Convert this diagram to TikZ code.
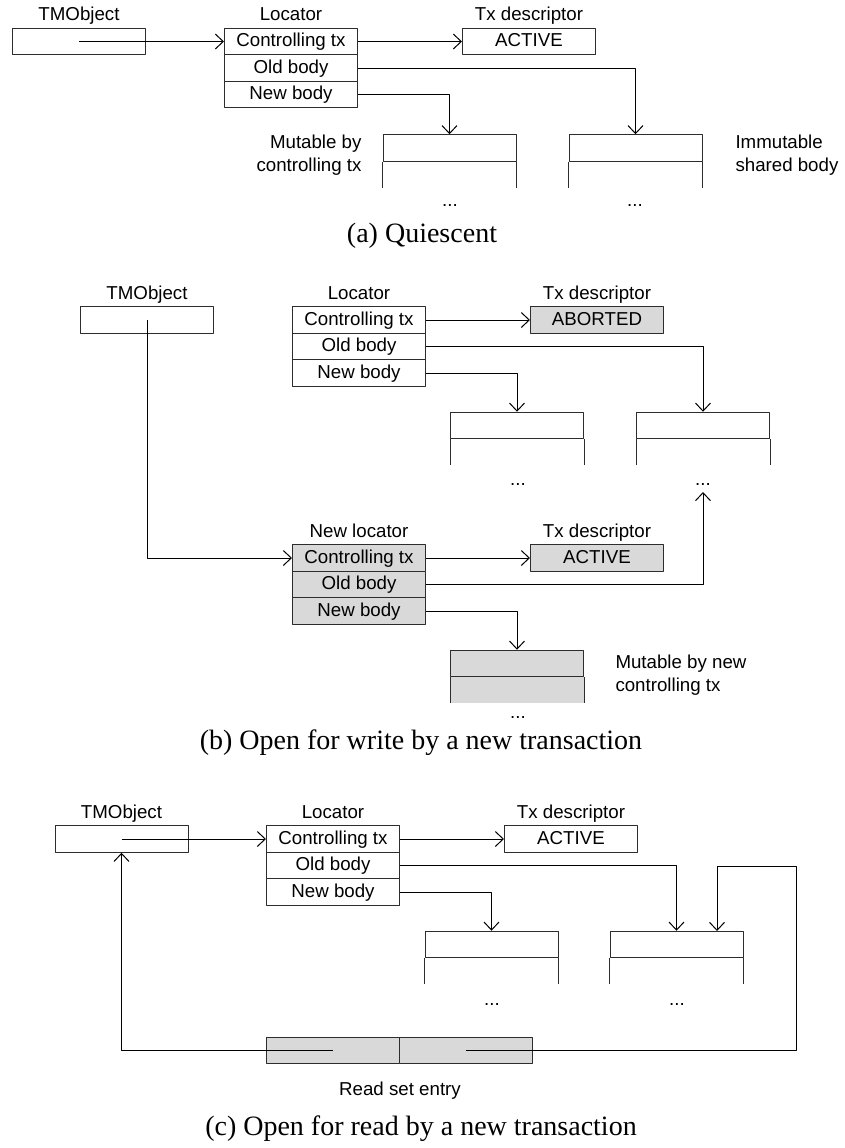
\documentclass[tikz,border=0pt]{standalone}
\usepackage{fontspec}
\setmainfont{Liberation Sans}
\newfontfamily\capfont{Liberation Serif}
\usetikzlibrary{arrows.meta}
\definecolor{cellgray}{RGB}{217,217,217}
\definecolor{linegray}{RGB}{45,45,45}
\tikzset{
  cell/.style={draw=linegray, minimum width=66.5pt, minimum height=13.25pt, inner sep=0pt, text height=7.2pt, text depth=2pt},
  shaded/.style={cell, fill=cellgray},
  title/.style={inner sep=0pt, text height=7.2pt, text depth=2pt},
  note/.style={inner sep=0pt},
  caption/.style={inner sep=0pt, font=\capfont\fontsize{14pt}{16pt}\selectfont},
  ptr/.style={-{Straight Barb[length=4pt,width=7.5pt]}},
}
\begin{document}
\begin{tikzpicture}[x=0.5pt,y=-0.5pt,line width=0.5pt,line join=round,font=\fontsize{9.35pt}{11.5pt}\selectfont]
	\useasboundingbox (0,0) rectangle (845,1148);
	% (a) quiescent
	\node[title] (a-tmo-t) at (79,15.5) {TMObject};
	\node[cell] (a-tmo) at (79,41.5) {};
	\node[title] (a-loc-t) at (291,15.5) {Locator};
	\node[cell] (a-ctl) at (291,41.5) {Controlling tx};
	\node[cell] (a-old) at (291,68) {Old body};
	\node[cell] (a-new) at (291,94.5) {New body};
	\node[title] (a-txd-t) at (529,15.5) {Tx descriptor};
	\node[cell] (a-txd) at (529,41.5) {ACTIVE};
	\node[cell] (a-mut) at (449.5,148) {};
	\node[cell] (a-imm) at (635.5,148) {};
	\draw[linegray] (a-mut.south west) -- ++(0,26) (a-mut.south east) -- ++(0,26);
	\draw[linegray] (a-imm.south west) -- ++(0,26) (a-imm.south east) -- ++(0,26);
	\node[title] (a-mdots) at (450,201) {...};
	\node[title] (a-idots) at (635,201) {...};
	\node[note,align=right,anchor=east] (a-mut-n) at (362,155) {Mutable by\\controlling tx};
	\node[note,align=left,anchor=west] (a-imm-n) at (735,155) {Immutable\\shared body};
	\draw[ptr] (a-tmo.center) -- (a-ctl.west);
	\draw[ptr] (a-ctl.east) -- (a-txd.west);
	\draw[ptr] (a-old.east) -| (a-imm.north);
	\draw[ptr] (a-new.east) -| (a-mut.north);
	\node[caption] (a-cap) at (422,236) {(a) Quiescent};

	% (b) open for write
	\node[title] (b-tmo-t) at (147,294) {TMObject};
	\node[cell] (b-tmo) at (147,320) {};
	\node[title] (b-loc-t) at (359,294) {Locator};
	\node[cell] (b-ctl) at (359,320) {Controlling tx};
	\node[cell] (b-old) at (359,346.5) {Old body};
	\node[cell] (b-new) at (359,373) {New body};
	\node[title] (b-txd-t) at (597,294) {Tx descriptor};
	\node[shaded] (b-txd) at (597,320) {ABORTED};
	\node[cell] (b-mut) at (517,425.5) {};
	\node[cell] (b-imm) at (703,425.5) {};
	\draw[linegray] (b-mut.south west) -- ++(0,26) (b-mut.south east) -- ++(0,26);
	\draw[linegray] (b-imm.south west) -- ++(0,26) (b-imm.south east) -- ++(0,26);
	\node[title] (b-mdots) at (518,480) {...};
	\node[title] (b-idots) at (703,480) {...};
	\coordinate (b-up) at (703,492);
	\node[title] (b-nloc-t) at (359,532) {New locator};
	\node[shaded] (b-nctl) at (359,558) {Controlling tx};
	\node[shaded] (b-nold) at (359,584.5) {Old body};
	\node[shaded] (b-nnew) at (359,611) {New body};
	\node[title] (b-ntxd-t) at (597,532) {Tx descriptor};
	\node[shaded] (b-ntxd) at (597,558) {ACTIVE};
	\fill[cellgray] (450.5,677) rectangle (583.5,703);
	\node[shaded] (b-nmut) at (517,663.5) {};
	\draw[linegray] (b-nmut.south west) -- ++(0,26) (b-nmut.south east) -- ++(0,26);
	\node[title] (b-ndots) at (518,713) {...};
	\node[note,align=left,anchor=west] (b-nmut-n) at (615,675) {Mutable by new\\controlling tx};
	\draw[ptr] (b-tmo.center) |- (b-nctl.west);
	\draw[ptr] (b-ctl.east) -- (b-txd.west);
	\draw[ptr] (b-old.east) -| (b-imm.north);
	\draw[ptr] (b-new.east) -| (b-mut.north);
	\draw[ptr] (b-nctl.east) -- (b-ntxd.west);
	\draw[ptr] (b-nold.east) -| (b-up);
	\draw[ptr] (b-nnew.east) -| (b-nmut.north);
	\node[caption] (b-cap) at (421,743) {(b) Open for write by a new transaction};

	% (c) open for read
	\node[title] (c-tmo-t) at (121.5,813) {TMObject};
	\node[cell] (c-tmo) at (121.5,839) {};
	\node[title] (c-loc-t) at (333,813) {Locator};
	\node[cell] (c-ctl) at (333,839) {Controlling tx};
	\node[cell] (c-old) at (333,865.5) {Old body};
	\node[cell] (c-new) at (333,892) {New body};
	\node[title] (c-txd-t) at (571,813) {Tx descriptor};
	\node[cell] (c-txd) at (571,839) {ACTIVE};
	\node[cell] (c-mut) at (491.5,944.5) {};
	\node[cell] (c-imm) at (676.5,944.5) {};
	\draw[linegray] (c-mut.south west) -- ++(0,26) (c-mut.south east) -- ++(0,26);
	\draw[linegray] (c-imm.south west) -- ++(0,26) (c-imm.south east) -- ++(0,26);
	\node[title] (c-mdots) at (492,1000) {...};
	\node[title] (c-idots) at (677,1000) {...};
	\node[shaded] (c-rs1) at (333,1050.5) {};
	\node[shaded] (c-rs2) at (465.5,1050.5) {};
	\node[title] (c-rs-t) at (400,1090) {Read set entry};
	\coordinate (c-turn) at (796,866);
	\coordinate (c-in) at (717,931);
	\draw[ptr] (c-tmo.center) -- (c-ctl.west);
	\draw[ptr] (c-ctl.east) -- (c-txd.west);
	\draw[ptr] (c-old.east) -| (c-imm.north);
	\draw[ptr] (c-new.east) -| (c-mut.north);
	\draw[ptr] (c-rs1.center) -| (c-tmo.south);
	\draw[ptr] (c-rs2.center) -| (c-turn) -| (c-in);
	\node[caption] (c-cap) at (421,1129) {(c) Open for read by a new transaction};
\end{tikzpicture}
\end{document}
